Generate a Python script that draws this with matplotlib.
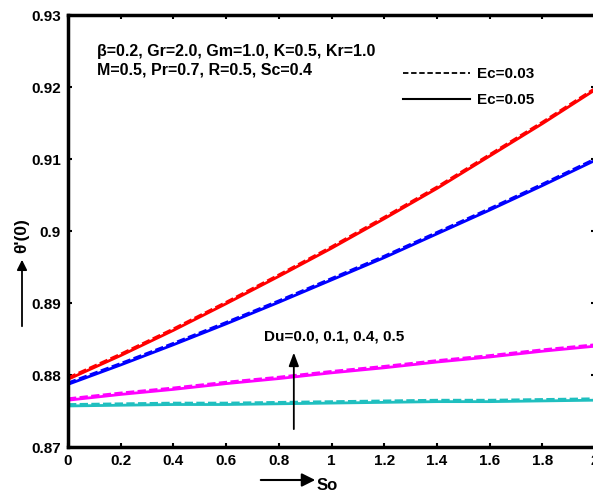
import matplotlib
matplotlib.use("Agg")
import matplotlib.pyplot as plt
from matplotlib.lines import Line2D
from matplotlib.patches import FancyArrowPatch
from matplotlib.ticker import FuncFormatter

plt.rcParams['font.family'] = ['Liberation Sans', 'DejaVu Sans']
plt.rcParams['font.weight'] = 'bold'

So = [0.0, 0.2, 0.4, 0.6, 0.8, 1.0, 1.2, 1.4, 1.6, 1.8, 2.0]

# Ec = 0.05 (solid)
du00_ec05 = [0.8794, 0.8827, 0.8862, 0.8899, 0.8937, 0.8976, 0.9017, 0.9059, 0.9104, 0.9149, 0.9196]
du01_ec05 = [0.8787, 0.8814, 0.8842, 0.8871, 0.8901, 0.8932, 0.8963, 0.8996, 0.9029, 0.9063, 0.9098]
du04_ec05 = [0.8765, 0.8773, 0.8780, 0.8788, 0.8795, 0.8803, 0.8810, 0.8818, 0.8825, 0.8833, 0.8840]
du05_ec05 = [0.8757, 0.8758, 0.8759, 0.8759, 0.8760, 0.8761, 0.8762, 0.8763, 0.8763, 0.8764, 0.8765]

# Ec = 0.03 (dashed)
du00_ec03 = [0.8796, 0.8829, 0.8864, 0.8901, 0.8939, 0.8978, 0.9019, 0.9061, 0.9106, 0.9151, 0.9198]
du01_ec03 = [0.8789, 0.8816, 0.8844, 0.8873, 0.8903, 0.8934, 0.8965, 0.8998, 0.9031, 0.9065, 0.9100]
du04_ec03 = [0.8767, 0.8775, 0.8782, 0.8790, 0.8797, 0.8805, 0.8812, 0.8820, 0.8827, 0.8835, 0.8842]
du05_ec03 = [0.8759, 0.8760, 0.8761, 0.8761, 0.8762, 0.8763, 0.8764, 0.8765, 0.8765, 0.8766, 0.8767]

colors = ['#ff0000', '#0000ff', '#ff00ff', '#1fbfbf']
solid_series = [du00_ec05, du01_ec05, du04_ec05, du05_ec05]
dashed_series = [du00_ec03, du01_ec03, du04_ec03, du05_ec03]

xticks = [0, 0.2, 0.4, 0.6, 0.8, 1.0, 1.2, 1.4, 1.6, 1.8, 2.0]
yticks = [0.87, 0.88, 0.89, 0.90, 0.91, 0.92, 0.93]

fig = plt.figure(figsize=(5.93, 4.90), dpi=100)
ax = fig.add_axes([68/593, 1 - 447/490, (595 - 68)/593, (447 - 15)/490])

for ys, c in zip(solid_series, colors):
    ax.plot(So, ys, '-', color=c, lw=2.0)
for ys, c in zip(dashed_series, colors):
    ax.plot(So, ys, '--', color=c, lw=2.0, dashes=(3, 1.2))

ax.set_xlim(0, 2)
ax.set_ylim(0.87, 0.93)
ax.set_xticks(xticks)
ax.set_yticks(yticks)
fmt = FuncFormatter(lambda v, p: ('%g' % round(v, 4)))
ax.xaxis.set_major_formatter(fmt)
ax.yaxis.set_major_formatter(fmt)
ax.tick_params(direction='in', length=3, width=1.5, top=True, right=True,
               labelsize=11, pad=5)
for lab in ax.get_xticklabels() + ax.get_yticklabels():
    lab.set_fontweight('bold')
for s in ax.spines.values():
    s.set_linewidth(2.5)

ax.text(0.055, 0.8947, 'β=0.2, Gr=2.0, Gm=1.0, K=0.5, Kr=1.0\nM=0.5, Pr=0.7, R=0.5, Sc=0.4',
        transform=ax.transAxes, ha='left', va='center', fontsize=11.5,
        fontweight='bold', linespacing=1.3)

handles = [Line2D([], [], color='k', ls='--', lw=1.3, dashes=(3, 1.5)),
           Line2D([], [], color='k', ls='-', lw=1.5)]
ax.legend(handles, ['Ec=0.03', 'Ec=0.05'], loc='upper left',
          bbox_to_anchor=(0.635, 0.879), frameon=False, handlelength=4.4,
          handletextpad=0.45, labelspacing=0.8, borderpad=0, borderaxespad=0,
          prop={'weight': 'bold', 'size': 11})

ax.annotate('', xy=(0.857, 0.8835), xytext=(0.857, 0.8721),
            arrowprops=dict(arrowstyle='-|>,head_length=0.8,head_width=0.3',
                            color='k', lw=1.3))
ax.text(0.745, 0.8853, 'Du=0.0, 0.1, 0.4, 0.5', ha='left', va='center',
        fontsize=11, fontweight='bold')

# y-label with arrow
fig.text(22/593, 1 - 253/490, "θ'(0)", rotation=90, ha='center', va='bottom',
         fontsize=12.5, fontweight='bold')
fig.add_artist(FancyArrowPatch(
    (22/593, 1 - 329/490), (22/593, 1 - 257/490), transform=fig.transFigure,
    arrowstyle='-|>,head_length=6,head_width=3', color='k', lw=1.3))

# x-label with arrow
fig.text(317/593, 1 - 485/490, 'So', ha='left', va='center',
         fontsize=12, fontweight='bold')
fig.add_artist(FancyArrowPatch(
    (258/593, 1 - 480/490), (318/593, 1 - 480/490), transform=fig.transFigure,
    arrowstyle='-|>,head_length=8,head_width=4', color='k', lw=1.5))

fig.savefig('out.png', dpi=100)
